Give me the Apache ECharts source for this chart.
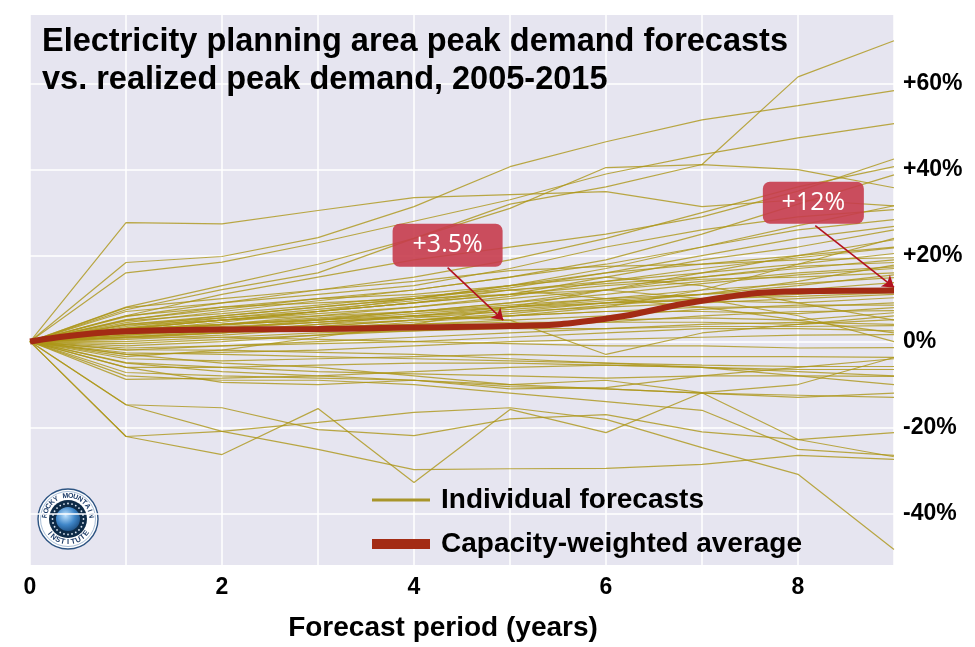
<!DOCTYPE html>
<html>
<head>
<meta charset="utf-8">
<script src="https://cdn.jsdelivr.net/npm/echarts@6/dist/echarts.min.js"></script>
<style>
html, body { margin: 0; padding: 0; background: #fff; }
#chart { width: 975px; height: 647px; }
</style>
</head>
<body>
<div id="chart"></div>
<script>
// forecast year 0..9
const years = [0, 1, 2, 3, 4, 5, 6, 7, 8, 9];
const yTicks = [-40, -20, 0, 20, 40, 60];

// deviation of each planning-area forecast from realized peak (%), one row per forecast
const individualForecasts = [
    [0, 7.4, 12.1, 16, 24, 32, 36, 41.2, 61.6, 70],
    [0, 18.4, 19.8, 24.2, 31.4, 40.7, 46.5, 51.6, 54.9, 58.4],
    [0, 16, 18.5, 23, 28, 33, 39, 43.5, 47.4, 50.7],
    [0, 27.7, 27.4, 30.5, 33.5, 34.2, 34.9, 31.4, 33, 31.6],
    [0, 8, 13, 18, 24, 31, 40.5, 41.2, 40, 35.8],
    [0, 6, 11, 15, 19, 22, 25, 29, 35, 42.5],
    [0, 5.8, 9, 12, 15, 19, 24, 30, 36, 40.7],
    [0, 4.4, 7, 9.5, 12, 15, 19, 25, 32, 38.8],
    [0, 7, 9, 11, 13, 17, 22, 26, 29, 30.7],
    [0, 5.1, 7.5, 10, 12, 15, 18, 22, 27, 31.6],
    [0, 3, 5, 7, 10, 13, 17, 22, 26, 28.4],
    [0, 4, 6, 8, 10, 12.5, 16, 20, 24, 26.8],
    [0, 2.5, 4.5, 7, 9, 11, 15, 19, 22, 26],
    [0, 3.5, 6, 8, 10, 13, 16, 18, 20, 23.7],
    [0, 2, 4, 6, 8, 10.5, 14, 17, 19.5, 21.8],
    [0, 7.9, 10, 12, 14, 16.5, 17.5, 18, 19, 19.5],
    [0, 3, 5, 6.5, 8, 10, 12, 15, 17.5, 18.4],
    [0, 1.5, 3, 5, 7, 9, 12, 14, 16, 17.4],
    [0, 4, 5.5, 7, 9, 11, 13, 14.5, 15, 16],
    [0, 2.8, 4, 5.5, 7, 8.5, 10, 12, 13.5, 14.9],
    [0, 1, 2.5, 4, 6, 8, 10, 11, 12, 13.7],
    [0, 2, 3, 4.5, 6, 7, 9, 10, 10.5, 11.4],
    [0, 3, 4, 5, 6.5, 8, 9, 9.5, 9, 10.2],
    [0, 0.5, 1.5, 3, 4.5, 6, 7, 8, 8, 9],
    [0, 1.5, 2.5, 3.5, 5, 6, 7, 7, 6.5, 7.9],
    [0, -1, 0, 1.5, 3, 4, 5, 5.5, 5, 6.7],
    [0, 2, 3, 3.5, 4, 4.5, 4.5, 4.5, 4, 5.1],
    [0, -2, -1, 0, 1, 2, 3, 4, 4.5, 4],
    [0, 0, 1, 2, 2.5, 3, 3, 3.5, 3.5, 3.7],
    [0, -3, -2.5, -2, -1, 0, 0.5, 1, 1.5, 1.6],
    [0, 1, 1, 0.5, 0, -0.5, -1, -1, -1.5, -1.4],
    [0, -4, -4.5, -4, -3.5, -3, -3.5, -3.5, -3.5, -3.7],
    [0, -2.6, -3, -3.5, -4, -4.5, -5, -5.5, -5.8, -5.8],
    [0, -6, -6, -5.5, -5, -5, -5.5, -6, -6.5, -6.5],
    [0, -4.9, -6, -7, -7.5, -8, -8.5, -8, -8, -8.1],
    [0, -7.2, -8, -8.5, -9, -10, -11, -12, -12.5, -13],
    [0, -8.8, -8.5, -8, -7, -6, -5.5, -6, -7, -8],
    [0, -1.9, -2, -2.5, -3, -4, -5, -6, -8, -10],
    [0, -6, -9.5, -10, -9, -10.5, -11, -12, -13, -12],
    [0, 2, 4, 5, 6, 5, -3, 2, 4, 6],
    [0, 3, 5, 7, 9, 12, 10, 8, 5, 2],
    [0, 5, 8, 10, 11, 13, 15, 13, 9, 5],
    [0, 1, 2, 4, 5, 6, 8, 12, 18, 24],
    [0, -3.5, -2, 1, 4, 8, 12, 16, 20, 22],
    [0, 6, 8, 9, 10, 11, 12, 10, 6, 0],
    [0, 3.2, 5.5, 7.5, 9.5, 12, 14, 16, 18, 20.5],
    [0, 2.2, 3.8, 5.2, 7, 9, 11, 13.5, 15.5, 17],
    [0, 4.8, 6.5, 8.5, 10.5, 12, 13.5, 15, 17, 19],
    [0, 1.8, 3.2, 4.5, 6, 7.5, 9, 11, 13, 15.5],
    [0, 0.8, 2, 3.5, 5, 6.5, 8.5, 10, 11, 12.5],
    [0, 2.5, 3.5, 4.5, 5.5, 7, 8, 9, 10, 11],
    [0, 1.2, 2, 3, 4, 5, 6, 7.5, 8.5, 8.5],
    [0, -0.5, 0.5, 1.5, 2.5, 3.5, 4.5, 6, 7, 7.2],
    [0, 3.8, 5, 6, 7, 8, 9.5, 11, 14, 17.8],
    [0, -1.5, -1, -0.5, 0, 1, 2, 3, 3, 2.5],
    [0, -14.7, -15.4, -20.5, -21.9, -18, -17, -21, -22.8, -21.2],
    [0, -22.1, -20.9, -18.8, -16.5, -15.4, -18.1, -24.7, -30.9, -48.4],
    [0, -14.7, -20.9, -25.1, -29.8, -29.6, -29.5, -28.6, -26.5, -27.4],
    [0, -22.1, -26.3, -15.6, -32.8, -15.8, -21.2, -11.9, -10, -3.7],
    [0, -8, -9, -9, -10, -12, -14, -16, -25.1, -26.5],
    [0, -3, -5, -6, -8, -10, -9, -11.9, -22.8, -26.8],
    [0, -5, -7, -8, -9, -11, -10.7, -8, -6, -4]
];

// capacity-weighted average (%)
const weightedAverage = [0, 2.4, 2.8, 2.9, 3.3, 3.6, 5.3, 9.5, 11.7, 11.9];

// callouts
const calloutLabels = ['+3.5%', '+12%'];

const FONT = '"Liberation Sans", Arial, sans-serif';
const OLIVE = '#a8952a';
const BRICK = '#a32b14';

// rounded box with a small corner radius, as a symbol path
function boxPath(w, h, r) {
    return 'path://M' + r + ',0 H' + (w - r) + ' A' + r + ',' + r + ' 0 0 1 ' + w + ',' + r +
        ' V' + (h - r) + ' A' + r + ',' + r + ' 0 0 1 ' + (w - r) + ',' + h +
        ' H' + r + ' A' + r + ',' + r + ' 0 0 1 0,' + (h - r) +
        ' V' + r + ' A' + r + ',' + r + ' 0 0 1 ' + r + ',0 Z';
}

let myChart = echarts.init(document.getElementById('chart'));

let series = individualForecasts.map(function (row) {
    return {
        type: 'line',
        name: 'Individual forecasts',
        data: years.map(function (x, i) { return [x, row[i]]; }),
        showSymbol: false,
        symbol: 'none',
        silent: true,
        z: 2,
        itemStyle: { color: OLIVE },
        lineStyle: { width: 1.2, color: 'rgba(172,150,24,0.8)' }
    };
});

series.push({
    type: 'line',
    name: 'Capacity-weighted average',
    data: years.map(function (x, i) { return [x, weightedAverage[i]]; }),
    showSymbol: false,
    symbol: 'none',
    smooth: 0.5,
    silent: true,
    z: 5,
    itemStyle: { color: BRICK },
    lineStyle: { width: 6, color: BRICK },
    markLine: {
        silent: true,
        symbol: ['none', 'arrow'],
        symbolSize: 11,
        label: { show: false },
        lineStyle: { color: '#b3121f', width: 1.6, type: 'solid' },
        data: [
            [{ coord: [4.35, 17.2] }, { coord: [4.93, 5.0] }],
            [{ coord: [8.18, 27] }, { coord: [9.0, 12.6] }]
        ]
    },
    markPoint: {
        silent: true,
        itemStyle: { color: 'rgba(198,60,76,0.9)' },
        label: {
            show: true,
            position: 'inside',
            formatter: '{b}',
            color: '#fff',
            fontSize: 25,
            fontFamily: '"Open Sans", "Noto Sans", sans-serif'
        },
        data: [
            { name: calloutLabels[0], coord: [4.35, 22.4], symbol: boxPath(110, 43, 7), symbolSize: [110, 43] },
            { name: calloutLabels[1], coord: [8.16, 32.3], symbol: boxPath(101, 42, 7), symbolSize: [101, 42] }
        ]
    }
});

// logo: Rocky Mountain Institute roundel
function logoElements(cx, cy) {
    let els = [
        { type: 'circle', shape: { cx: cx, cy: cy, r: 30 }, style: { fill: '#fff', stroke: '#2d5482', lineWidth: 1.4 } },
        { type: 'circle', shape: { cx: cx, cy: cy, r: 27.5 }, style: { fill: 'none', stroke: '#6c8fb8', lineWidth: 0.6 } },
        { type: 'circle', shape: { cx: cx, cy: cy, r: 19 }, style: { fill: '#0e2b47' } },
        {
            type: 'circle', shape: { cx: cx, cy: cy, r: 12 },
            style: {
                fill: new echarts.graphic.RadialGradient(0.4, 0.35, 0.8, [
                    { offset: 0, color: '#bfe3ff' }, { offset: 0.5, color: '#3f86c8' }, { offset: 1, color: '#123e6e' }
                ])
            }
        }
    ];
    for (let k = 0; k < 24; k++) {
        let a = k / 24 * Math.PI * 2;
        els.push({ type: 'circle', shape: { cx: cx + 15.5 * Math.cos(a), cy: cy + 15.5 * Math.sin(a), r: 0.9 }, style: { fill: '#dfe8f2' } });
    }
    let top = 'ROCKY MOUNTAIN';
    for (let i = 0; i < top.length; i++) {
        let th = (-172 + i * 164 / (top.length - 1)) * Math.PI / 180;
        els.push({
            type: 'text', x: cx + 23.2 * Math.cos(th), y: cy + 23.2 * Math.sin(th), rotation: -(th + Math.PI / 2),
            style: { text: top[i], fill: '#1d3c68', font: 'bold 7px ' + FONT, align: 'center', verticalAlign: 'middle' }
        });
    }
    let bottom = 'INSTITUTE';
    for (let i = 0; i < bottom.length; i++) {
        let th = (142 - i * 104 / (bottom.length - 1)) * Math.PI / 180;
        els.push({
            type: 'text', x: cx + 23.2 * Math.cos(th), y: cy + 23.2 * Math.sin(th), rotation: -(th - Math.PI / 2),
            style: { text: bottom[i], fill: '#1d3c68', font: 'bold 7.5px ' + FONT, align: 'center', verticalAlign: 'middle' }
        });
    }
    return els;
}

let legendText = { fontFamily: FONT, fontWeight: 'bold', fontSize: 28, color: '#000', padding: [0, 0, 0, 6] };

let option = {
    animation: false,
    backgroundColor: '#fff',
    title: {
        text: 'Electricity planning area peak demand forecasts\nvs. realized peak demand, 2005-2015',
        left: 37,
        top: 18,
        textStyle: { fontFamily: FONT, fontWeight: 'bold', fontSize: 32.5, lineHeight: 38, color: '#000' }
    },
    grid: {
        left: 30, right: 81, top: 15, bottom: 82,
        show: true, backgroundColor: '#e6e5f0', borderWidth: 0
    },
    legend: [
        {
            data: [{ name: 'Individual forecasts', icon: 'rect', itemStyle: { color: OLIVE } }],
            left: 367, top: 481, itemWidth: 58, itemHeight: 3,
            selectedMode: false,
            textStyle: legendText
        },
        {
            data: [{ name: 'Capacity-weighted average', icon: 'rect', itemStyle: { color: BRICK } }],
            left: 367, top: 525, itemWidth: 58, itemHeight: 10,
            selectedMode: false,
            textStyle: legendText
        }
    ],
    xAxis: {
        type: 'value',
        min: 0, max: 9, interval: 1,
        name: 'Forecast period (years)',
        nameLocation: 'middle',
        nameGap: 49,
        nameTextStyle: { fontFamily: FONT, fontWeight: 'bold', fontSize: 28, color: '#000', padding: [0, 38, 0, 0] },
        axisLine: { show: false },
        axisTick: { show: false },
        axisLabel: {
            margin: 11,
            fontFamily: FONT, fontWeight: 'bold', fontSize: 23, color: '#000',
            formatter: function (v) { return (v % 2 === 0 && v < 9) ? String(v) : ''; }
        },
        splitLine: { show: true, lineStyle: { color: '#fff', width: 1.5 } }
    },
    yAxis: {
        type: 'value',
        position: 'right',
        min: -52, max: 76,
        axisLine: { show: false },
        axisTick: { show: false, customValues: yTicks },
        axisLabel: {
            customValues: yTicks,
            margin: 9,
            fontFamily: FONT, fontWeight: 'bold', fontSize: 23, color: '#000',
            formatter: function (v) { return (v > 0 ? '+' : '') + v + '%'; }
        },
        splitLine: { show: true, lineStyle: { color: '#fff', width: 1.5 } }
    },
    graphic: logoElements(68, 519),
    series: series
};

myChart.setOption(option);
window.onresize = myChart.resize;
</script>
</body>
</html>
